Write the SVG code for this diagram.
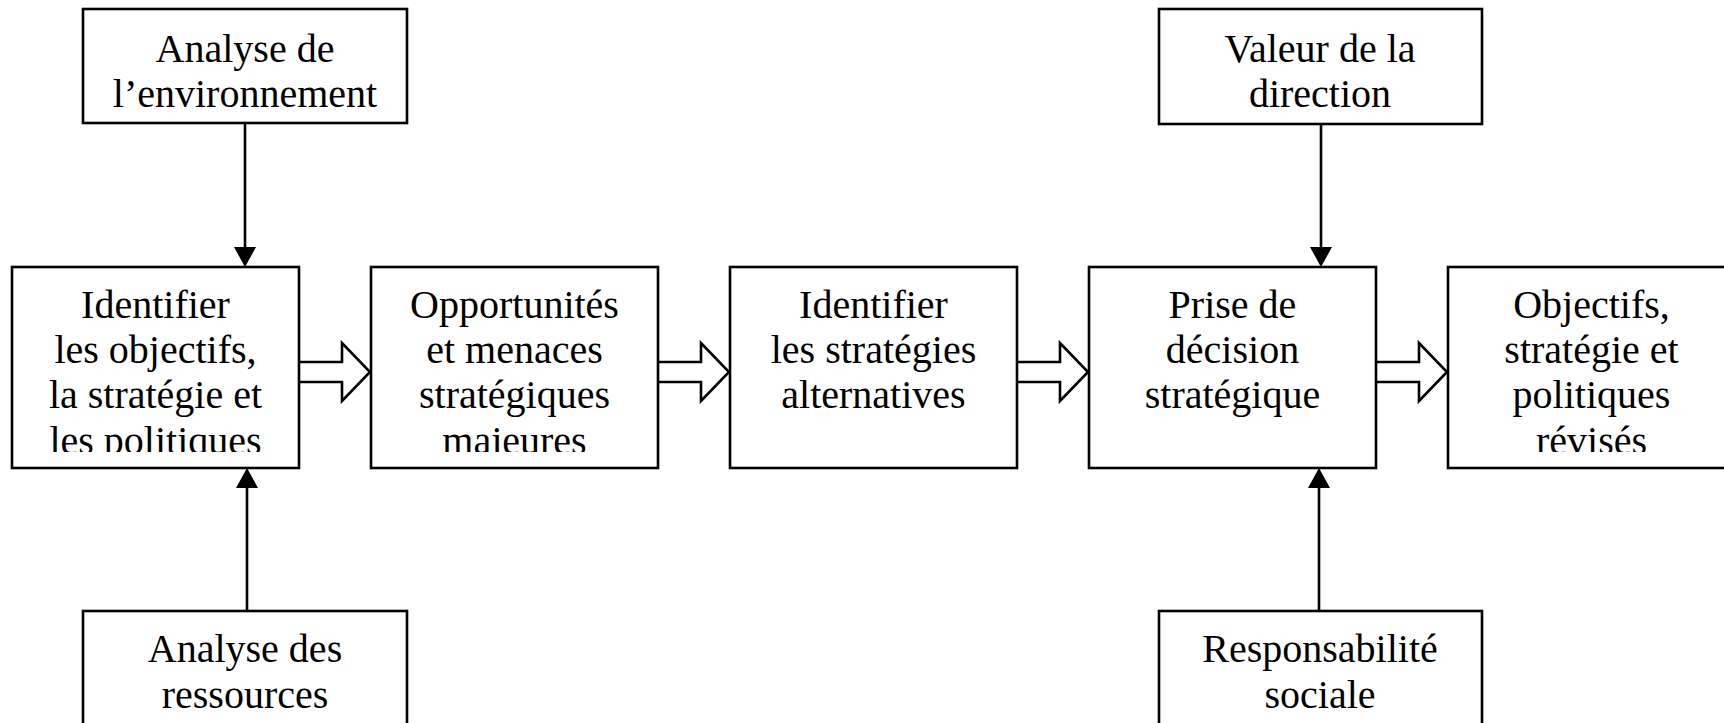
<svg xmlns="http://www.w3.org/2000/svg" width="1724" height="723" viewBox="0 0 1724 723">
<style>
.box{fill:#fff;stroke:#000;stroke-width:2.6}
.t{font-family:"Liberation Serif","Times New Roman",serif;font-size:40px;fill:#000;text-anchor:middle}
.ln{stroke:#000;stroke-width:2.6;fill:none}
.ha{fill:#fff;stroke:#000;stroke-width:2.6;stroke-linejoin:miter}
</style>
<defs>
<marker id="ah" viewBox="0 0 20 22" refX="0" refY="11" markerWidth="20" markerHeight="22" markerUnits="userSpaceOnUse" orient="auto">
<path d="M0,0 L20,11 L0,22 z" fill="#000"/>
</marker>
<clipPath id="clipRow" clipPathUnits="userSpaceOnUse"><rect x="0" y="267" width="1724" height="185"/></clipPath>
</defs>
<rect width="1724" height="723" fill="#fff"/>

<g id="connectors">
<line class="ln" x1="245" y1="123" x2="245" y2="247" marker-end="url(#ah)"/>
<line class="ln" x1="247" y1="611" x2="247" y2="488" marker-end="url(#ah)"/>
<line class="ln" x1="1321" y1="124" x2="1321" y2="247" marker-end="url(#ah)"/>
<line class="ln" x1="1319" y1="611" x2="1319" y2="488" marker-end="url(#ah)"/>
<path class="ha" d="M299,362 H342 V343 L370,372 L342,401 V382 H299"/>
<path class="ha" d="M658,362 H701 V343 L729,372 L701,401 V382 H658"/>
<path class="ha" d="M1017,362 H1060 V343 L1088,372 L1060,401 V382 H1017"/>
<path class="ha" d="M1376,362 H1419 V343 L1447,372 L1419,401 V382 H1376"/>
</g>

<g id="env">
<rect class="box" x="83" y="9" width="324" height="114"/>
<text class="t" x="245" y="62">Analyse de</text>
<text class="t" x="245" y="107">l’environnement</text>
</g>

<g id="res">
<rect class="box" x="83" y="611" width="324" height="130"/>
<text class="t" x="245" y="662">Analyse des</text>
<text class="t" x="245" y="708">ressources</text>
</g>

<g id="val">
<rect class="box" x="1159" y="9" width="323" height="115"/>
<text class="t" x="1320" y="62">Valeur de la</text>
<text class="t" x="1320" y="107">direction</text>
</g>

<g id="soc">
<rect class="box" x="1159" y="611" width="323" height="130"/>
<text class="t" x="1320" y="662">Responsabilité</text>
<text class="t" x="1320" y="708">sociale</text>
</g>

<g id="n1">
<rect class="box" x="12" y="267" width="287" height="201"/>
<g clip-path="url(#clipRow)">
<text class="t" x="155.5" y="318">Identifier</text>
<text class="t" x="155.5" y="363">les objectifs,</text>
<text class="t" x="155.5" y="408">la stratégie et</text>
<text class="t" x="155.5" y="454">les politiques</text>
</g>
</g>

<g id="n2">
<rect class="box" x="371" y="267" width="287" height="201"/>
<g clip-path="url(#clipRow)">
<text class="t" x="514.5" y="318">Opportunités</text>
<text class="t" x="514.5" y="363">et menaces</text>
<text class="t" x="514.5" y="408">stratégiques</text>
<text class="t" x="514.5" y="454">majeures</text>
</g>
</g>

<g id="n3">
<rect class="box" x="730" y="267" width="287" height="201"/>
<text class="t" x="873.5" y="318">Identifier</text>
<text class="t" x="873.5" y="363">les stratégies</text>
<text class="t" x="873.5" y="408">alternatives</text>
</g>

<g id="n4">
<rect class="box" x="1089" y="267" width="287" height="201"/>
<text class="t" x="1232.5" y="318">Prise de</text>
<text class="t" x="1232.5" y="363">décision</text>
<text class="t" x="1232.5" y="408">stratégique</text>
</g>

<g id="n5">
<rect class="box" x="1448" y="267" width="287" height="201"/>
<g clip-path="url(#clipRow)">
<text class="t" x="1591.5" y="318">Objectifs,</text>
<text class="t" x="1591.5" y="363">stratégie et</text>
<text class="t" x="1591.5" y="408">politiques</text>
<text class="t" x="1591.5" y="454">révisés</text>
</g>
</g>
</svg>
